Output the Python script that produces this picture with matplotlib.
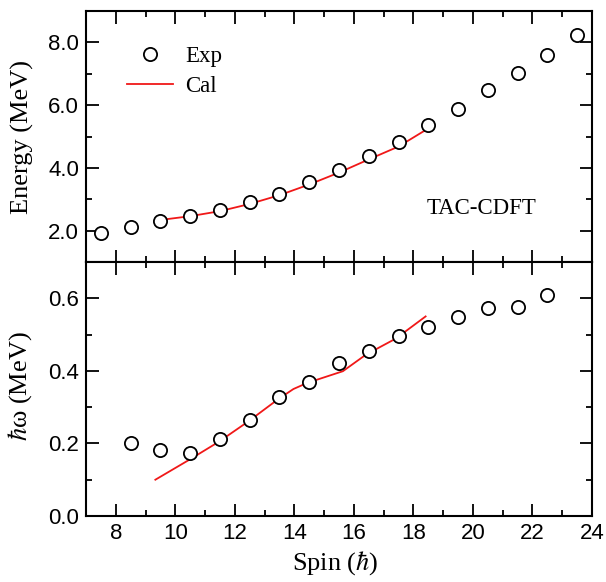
import matplotlib
matplotlib.use("Agg")
import matplotlib.pyplot as plt
from matplotlib.ticker import MultipleLocator, FormatStrFormatter

# ---- data ----
spin_exp_E = [7.5, 8.5, 9.5, 10.5, 11.5, 12.5, 13.5, 14.5, 15.5, 16.5,
              17.5, 18.5, 19.5, 20.5, 21.5, 22.5, 23.5]
energy_exp = [1.92, 2.11, 2.32, 2.47, 2.65, 2.90, 3.18, 3.54, 3.92, 4.38,
              4.82, 5.36, 5.87, 6.47, 7.02, 7.61, 8.23]
spin_cal_E = [9.5, 10.5, 11.5, 12.5, 13.5, 14.5, 15.5, 16.5, 17.5, 18.4]
energy_cal = [2.34, 2.46, 2.62, 2.85, 3.13, 3.47, 3.85, 4.27, 4.68, 5.20]

spin_exp_w = [8.5, 9.5, 10.5, 11.5, 12.5, 13.5, 14.5, 15.5, 16.5, 17.5,
              18.5, 19.5, 20.5, 21.5, 22.5]
omega_exp = [0.200, 0.182, 0.175, 0.213, 0.265, 0.327, 0.370, 0.422, 0.456,
             0.495, 0.522, 0.549, 0.573, 0.575, 0.608]
spin_cal_w = [9.33, 10.47, 11.47, 12.46, 13.44, 13.97, 14.44, 15.63, 16.41,
              17.41, 18.41]
omega_cal = [0.100, 0.155, 0.205, 0.261, 0.321, 0.350, 0.367, 0.399, 0.445,
             0.489, 0.550]

plt.rcParams['mathtext.fontset'] = 'stix'
serif = 'Liberation Serif'
sans = 'Liberation Sans'

fig = plt.figure(figsize=(6.06, 5.82), dpi=100)
L, R = 86 / 606, 592 / 606
ax1 = fig.add_axes([L, 1 - 262 / 582, R - L, (262 - 11) / 582])
ax2 = fig.add_axes([L, 1 - 516 / 582, R - L, (516 - 262) / 582])

mk = dict(marker='o', linestyle='none', markersize=9.5, markerfacecolor='white',
          markeredgecolor='black', markeredgewidth=1.3, zorder=3)

ax1.plot(spin_cal_E, energy_cal, color='#f01818', lw=1.3, label='Cal', zorder=2)
ax1.plot(spin_exp_E, energy_exp, label='Exp', **mk)
ax2.plot(spin_cal_w, omega_cal, color='#f01818', lw=1.3, zorder=2)
ax2.plot(spin_exp_w, omega_exp, **mk)

ax1.set_ylim(1.0, 9.0)
ax1.yaxis.set_major_locator(MultipleLocator(2))
ax1.yaxis.set_minor_locator(MultipleLocator(1))
ax1.yaxis.set_major_formatter(FormatStrFormatter('%.1f'))

ax2.set_ylim(0.0, 0.7)
ax2.yaxis.set_major_locator(MultipleLocator(0.2))
ax2.yaxis.set_minor_locator(MultipleLocator(0.1))
ax2.yaxis.set_major_formatter(FormatStrFormatter('%.1f'))

for ax in (ax1, ax2):
    ax.set_xlim(7, 24)
    ax.xaxis.set_major_locator(MultipleLocator(2))
    ax.xaxis.set_minor_locator(MultipleLocator(1))
    ax.tick_params(which='both', direction='in', top=True, right=True,
                   width=1.3, labelsize=16, pad=5)
    ax.tick_params(which='major', length=9)
    ax.tick_params(which='minor', length=4.5)
    for s in ax.spines.values():
        s.set_linewidth(1.5)
    for lab in ax.get_xticklabels() + ax.get_yticklabels():
        lab.set_fontfamily(sans)

ax1.tick_params(labelbottom=False)

ax1.set_ylabel('Energy (MeV)', fontsize=19, family=serif)
ax1.yaxis.set_label_coords(-0.103, 0.5)
ax2.set_ylabel(r'$\hbar$ω (MeV)', fontsize=19, family=serif)
ax2.yaxis.set_label_coords(-0.103, 0.51)
ax2.set_xlabel(r'Spin ($\hbar$)', fontsize=19, family=serif)
ax2.xaxis.set_label_coords(0.492, -0.13)

ax1.text(0.674, 0.215, 'TAC-CDFT', transform=ax1.transAxes, fontsize=16.5,
         family=serif, va='center', ha='left')

h, l = ax1.get_legend_handles_labels()
leg = ax1.legend(h[::-1], l[::-1], loc='upper left', bbox_to_anchor=(0.081, 0.862),
                 frameon=False, prop={'family': serif, 'size': 16.5},
                 handlelength=2.0, handletextpad=0.55, labelspacing=0.4,
                 borderpad=0, borderaxespad=0)

fig.savefig('out.png', dpi=100)
